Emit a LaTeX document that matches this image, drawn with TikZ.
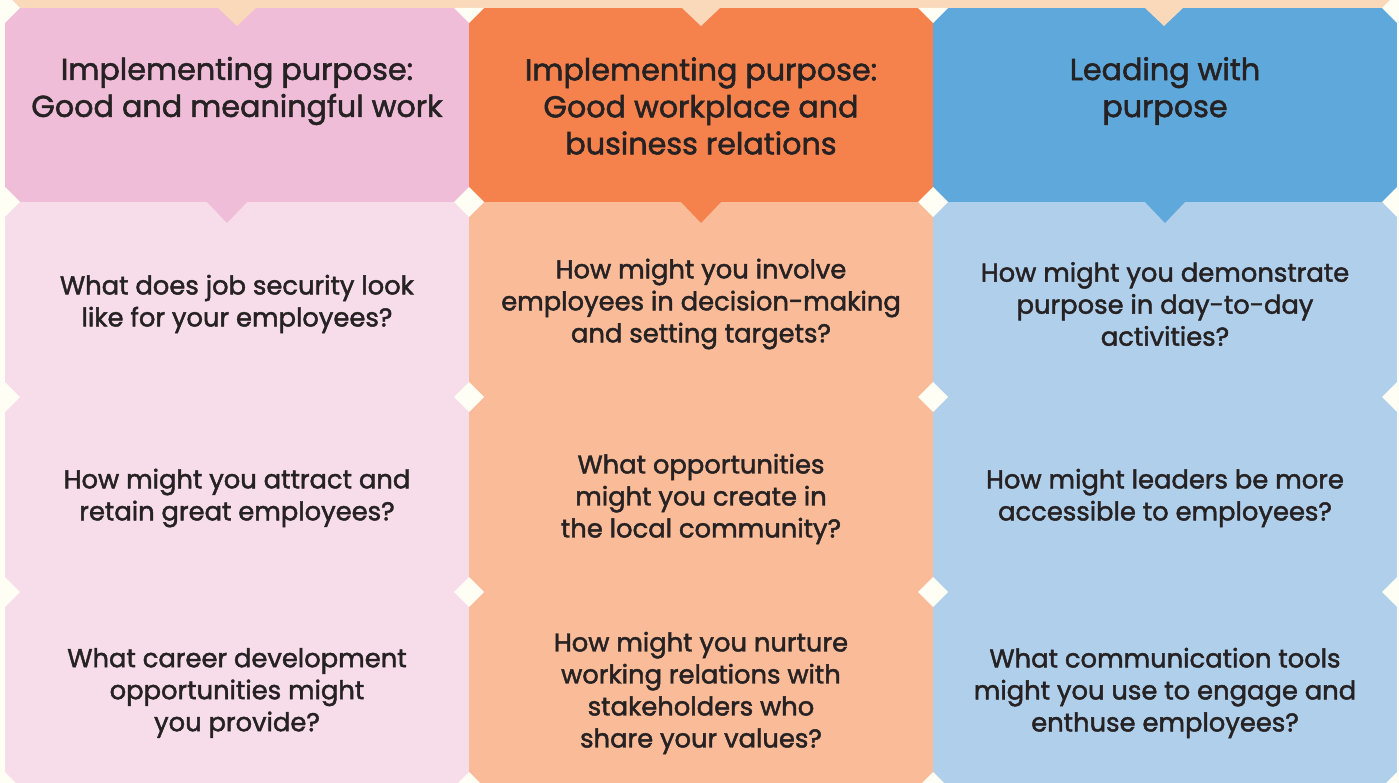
\documentclass[tikz,border=0pt]{standalone}
\usepackage{fontspec}
\setmainfont{Poppins}[UprightFeatures={FakeBold=1.8}]
\definecolor{paper}{HTML}{FFFEF5}
\definecolor{peach}{HTML}{F9D9BA}
\definecolor{pinkD}{HTML}{EFBDD8}
\definecolor{pinkL}{HTML}{F7DCEA}
\definecolor{orangeD}{HTML}{F5824C}
\definecolor{orangeL}{HTML}{F9BB98}
\definecolor{blueD}{HTML}{5FA8DB}
\definecolor{blueL}{HTML}{AFCFEB}
\definecolor{ink}{HTML}{262223}
\tikzset{
  hdr/.style={align=center, text=ink, inner sep=0pt, font=\fontsize{30.2}{37}\selectfont},
  qtext/.style={align=center, text=ink, inner sep=0pt, font=\fontsize{25.8}{32}\selectfont},
  gap/.style={fill=paper},
}
\begin{document}
\begin{tikzpicture}[x=1pt,y=-1pt]
\useasboundingbox (0,0) rectangle (1399,783);
\clip (0,0) rectangle (1399,783);
\fill[paper] (0,0) rectangle (1399,783);
% strip along the top with its pointers
\fill[peach] (5,-10) rectangle (1397,8);
% columns: header tile and question tiles
\foreach \xa/\xb/\dk/\lt in {5/469/pinkD/pinkL, 469/933/orangeD/orangeL, 933/1397/blueD/blueL}{
  \fill[\dk] (\xa,8) rectangle (\xb,202);
  \fill[\lt] (\xa,202) rectangle (\xb,790);
}
% header pointers into the first question row
\foreach \cx/\dk in {227/pinkD, 701/orangeD, 1165/blueD}{
  \fill[\dk] (\cx-20,202) -- (\cx,223) -- (\cx+20,202) -- cycle;
}
% strip pointers into the headers
\foreach \cx in {237, 701, 1164}{
  \fill[peach] (\cx-19,8) -- (\cx,26) -- (\cx+19,8) -- cycle;
}
% diamond gaps at the tile corners
\foreach \x in {5,469,933,1397}{
  \foreach \y in {202,397,592,787}{
    \fill[gap] (\x-15,\y) -- (\x,\y-15) -- (\x+15,\y) -- (\x,\y+15) -- cycle;
  }
}
\foreach \x in {5,1397}{
  \fill[gap] (\x-15,8) -- (\x,-7) -- (\x+15,8) -- (\x,23) -- cycle;
}
\foreach \x in {469,933}{
  \fill[gap] (\x-15,8) -- (\x+15,8) -- (\x,23) -- cycle;
}
% headers
\node[hdr] (h1) at (237,91) {Implementing purpose:\\Good and meaningful work};
\node[hdr] (h2) at (701,106) {Implementing purpose:\\Good workplace and\\business relations};
\node[hdr] (h3) at (1165,91) {Leading with\\purpose};
% questions
\node[qtext] (q11) at (237,304) {What does job security look\\like for your employees?};
\node[qtext] (q12) at (701,304) {How might you involve\\employees in decision-making\\and setting targets?};
\node[qtext] (q13) at (1165,304) {How might you demonstrate\\purpose in day-to-day\\activities?};
\node[qtext] (q21) at (237,498) {How might you attract and\\retain great employees?};
\node[qtext] (q22) at (701,499) {What opportunities\\might you create in\\the local community?};
\node[qtext] (q23) at (1165,498) {How might leaders be more\\accessible to employees?};
\node[qtext] (q31) at (237,693) {What career development\\opportunities might\\you provide?};
\node[qtext] (q32) at (701,693) {How might you nurture\\working relations with\\stakeholders who\\share your values?};
\node[qtext] (q33) at (1165,693) {What communication tools\\might you use to engage and\\enthuse employees?};
\end{tikzpicture}
\end{document}
